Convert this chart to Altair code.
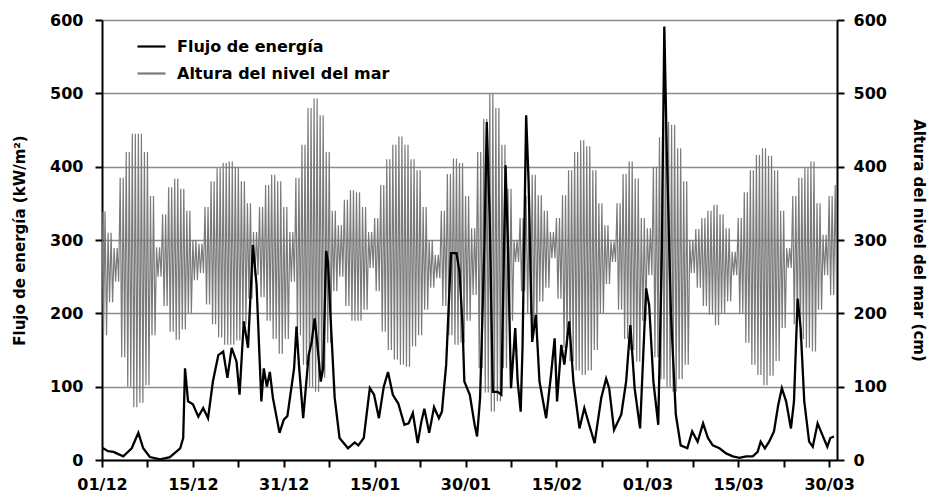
import json
import altair as alt
import pandas as pd

# ---- data ----
series_names = ["Flujo de energía", "Altura del nivel del mar"]
x_tick_labels = ["01/12", "15/12", "31/12", "15/01", "30/01", "15/02", "01/03", "15/03", "30/03"]
y_ticks = [0, 100, 200, 300, 400, 500, 600]

# energy flux (kW/m2), day index counted from 01/12
flux_day = [0, 0.2, 1.0, 1.9, 3.5, 4.9, 6.0, 6.8, 7.9, 9.6, 11.2, 12.9, 13.4, 13.7, 14.2, 15.0,
            15.9, 16.7, 17.5, 18.3, 19.2, 20.0, 20.7, 21.4, 22.2, 22.7, 23.4, 24.1, 24.9, 25.5,
            26.3, 26.7, 27.2, 27.7, 28.2, 29.3, 30.0, 30.6, 31.7, 32.1, 32.5, 33.2, 34.1, 34.6,
            35.1, 35.6, 36.1, 36.5, 37.0, 37.3, 37.7, 38.4, 39.2, 40.6, 41.7, 42.3, 43.2, 44.2,
            44.9, 45.7, 46.5, 47.2, 48.0, 48.9, 49.9, 50.6, 51.3, 52.1, 52.7, 53.2, 54.0, 54.8,
            55.6, 56.1, 56.8, 57.6, 58.5, 59.0, 59.5, 59.8, 60.7, 61.5, 61.9, 62.4, 63.1, 63.5,
            64.0, 64.5, 65.3, 65.9, 66.6, 67.0, 67.5, 68.2, 68.6, 69.1, 69.4, 70.0, 70.4, 71.0,
            71.6, 72.2, 73.3, 74.1, 74.7, 75.1, 75.8, 76.3, 77.1, 77.8, 78.8, 79.6, 80.4, 81.3,
            82.4, 83.2, 83.7, 84.5, 85.7, 86.5, 87.2, 87.9, 88.8, 89.8, 90.3, 91.0, 91.8, 92.4,
            92.8, 93.2, 93.9, 94.7, 95.5, 96.6, 97.4, 98.3, 99.2, 100.0, 100.8, 101.9, 103.0,
            104.1, 105.2, 106.3, 107.4, 108.2, 108.7, 109.4, 110.1, 110.9, 111.6, 112.2, 112.9,
            113.7, 114.2, 114.8, 115.3, 115.9, 116.7, 117.3, 118.1, 118.9, 119.7, 120.2, 120.8]
flux_value = [15, 16, 12, 11, 5, 16, 37, 16, 4, 1, 4, 16, 30, 125, 80, 76,
              59, 71, 57, 107, 143, 148, 112, 153, 134, 89, 189, 153, 293, 240,
              80, 125, 100, 120, 85, 37, 55, 60, 125, 182, 130, 57, 143, 161,
              193, 153, 107, 125, 285, 270, 198, 85, 30, 16, 24, 20, 30, 98,
              89, 57, 100, 120, 89, 77, 48, 50, 64, 23, 52, 70, 37, 72,
              57, 66, 130, 282, 282, 257, 184, 107, 89, 48, 32, 85, 289, 461,
              325, 93, 93, 89, 402, 289, 98, 180, 107, 66, 153, 470, 380, 161,
              198, 107, 57, 116, 166, 80, 157, 130, 189, 107, 43, 71, 48, 23,
              85, 111, 98, 41, 62, 107, 184, 98, 43, 234, 211, 107, 48, 289,
              591, 425, 198, 62, 20, 16, 39, 25, 50, 30, 20, 16, 9,
              5, 3, 5, 5, 11, 25, 16, 25, 39, 75, 98, 80,
              43, 80, 220, 180, 80, 25, 18, 50, 34, 18, 30, 32]

# sea level (cm): daily high-water and low-water levels, day 0 = 01/12
tide_high = [339, 310, 289, 385, 420, 445, 445, 420, 360, 290,
             335, 372, 384, 370, 340, 300, 295, 345, 380, 398,
             405, 407, 400, 380, 350, 311, 345, 375, 389, 380,
             345, 311, 385, 430, 480, 493, 470, 420, 340, 320,
             355, 368, 365, 345, 311, 330, 375, 410, 430, 441,
             430, 410, 395, 345, 300, 280, 340, 390, 411, 405,
             360, 316, 420, 465, 500, 480, 430, 370, 300, 330,
             360, 389, 361, 340, 311, 330, 361, 395, 420, 436,
             428, 395, 350, 320, 298, 350, 390, 407, 384, 330,
             316, 400, 440, 461, 457, 425, 380, 300, 315, 330,
             340, 348, 335, 316, 284, 330, 365, 395, 416, 425,
             415, 395, 340, 289, 360, 385, 398, 407, 350, 307,
             360, 375]
tide_low = [170, 215, 243, 140, 100, 72, 78, 102, 170, 250,
            210, 175, 164, 178, 200, 245, 255, 212, 185, 167,
            157, 157, 163, 185, 220, 252, 222, 190, 165, 145,
            165, 243, 170, 130, 100, 93, 112, 160, 230, 250,
            210, 190, 190, 205, 262, 230, 175, 150, 137, 130,
            127, 155, 170, 205, 235, 248, 210, 170, 157, 160,
            190, 225, 125, 92, 66, 80, 125, 190, 270, 230,
            200, 175, 216, 235, 275, 220, 153, 135, 122, 116,
            122, 150, 200, 240, 270, 205, 165, 150, 134, 190,
            252, 140, 110, 100, 93, 110, 130, 255, 235, 210,
            198, 184, 200, 216, 252, 200, 160, 130, 116, 102,
            115, 135, 180, 262, 185, 165, 153, 148, 205, 252,
            225, 216]

# ---- tables ----
X_MAX = 121.3
flux_df = pd.DataFrame({"day": flux_day, "value": flux_value, "series": series_names[0]})
rows = []
for d, (h, l) in enumerate(zip(tide_high, tide_low)):
    for k, v in enumerate([h, l, h, l]):
        t = d + k * 0.25
        if t <= X_MAX:
            rows.append({"day": t, "value": v, "series": series_names[1]})
tide_df = pd.DataFrame(rows)

FONT = "DejaVu Sans"
x_values = [i * 7.5 for i in range(17)]
label_expr = ("(datum.value % 15 == 0) ? " + json.dumps(x_tick_labels) +
              "[round(datum.value / 15)] : ''")

color_scale = alt.Scale(domain=series_names, range=["#000000", "#7a7a7a"])

x_enc = alt.X("day:Q",
              scale=alt.Scale(domain=[0, X_MAX], nice=False, zero=False),
              axis=alt.Axis(values=x_values, labelExpr=label_expr, title=None, grid=False,
                            tickSize=7, tickWidth=2, tickColor="black",
                            domainColor="black", domainWidth=2,
                            labelFont=FONT, labelFontSize=16, labelFontWeight="bold",
                            labelColor="black", labelPadding=9, labelOverlap=False,
                            labelFlush=False))

common_axis = dict(values=y_ticks, tickSize=7, tickWidth=2, tickColor="black",
                   domainColor="black", domainWidth=2,
                   labelFont=FONT, labelFontSize=16, labelFontWeight="bold",
                   labelColor="black",
                   titleFont=FONT, titleFontSize=15, titleFontWeight="bold",
                   titleColor="black")

legend = alt.Legend(orient="none", legendX=34, legendY=11, title=None,
                    symbolType="stroke", symbolSize=784, symbolStrokeWidth=2.2,
                    labelFont=FONT, labelFontSize=16, labelFontWeight="bold",
                    labelColor="black", labelOffset=10, rowPadding=3, padding=0,
                    labelLimit=400)

tide = alt.Chart(tide_df).mark_line(strokeWidth=1.2, clip=True).encode(
    x=x_enc,
    y=alt.Y("value:Q", scale=alt.Scale(domain=[0, 600], nice=False),
            axis=alt.Axis(orient="right", grid=False, title="Altura del nivel del mar (cm)",
                          labelPadding=9, titlePadding=24, **common_axis)),
    color=alt.Color("series:N", scale=color_scale, legend=legend),
    order="day:Q",
)

flux = alt.Chart(flux_df).mark_line(strokeWidth=2.3, clip=True).encode(
    x=x_enc,
    y=alt.Y("value:Q", scale=alt.Scale(domain=[0, 600], nice=False),
            axis=alt.Axis(orient="left", grid=True, gridColor="#8c8c8c", gridWidth=1.5,
                          title="Flujo de energía (kW/m²)", labelPadding=12,
                          titlePadding=22, **common_axis)),
    color=alt.Color("series:N", scale=color_scale, legend=legend),
    order="day:Q",
)

chart = alt.layer(tide, flux).resolve_scale(y="independent").properties(
    width=735, height=440,
    autosize=alt.AutoSizeParams(type="none"),
    padding={"left": 94, "top": 12, "right": 92, "bottom": 36},
).configure_view(stroke="black", strokeWidth=2).configure(font=FONT, background="white")

chart.save("out.html", embed_options={"renderer": "svg", "actions": False})
